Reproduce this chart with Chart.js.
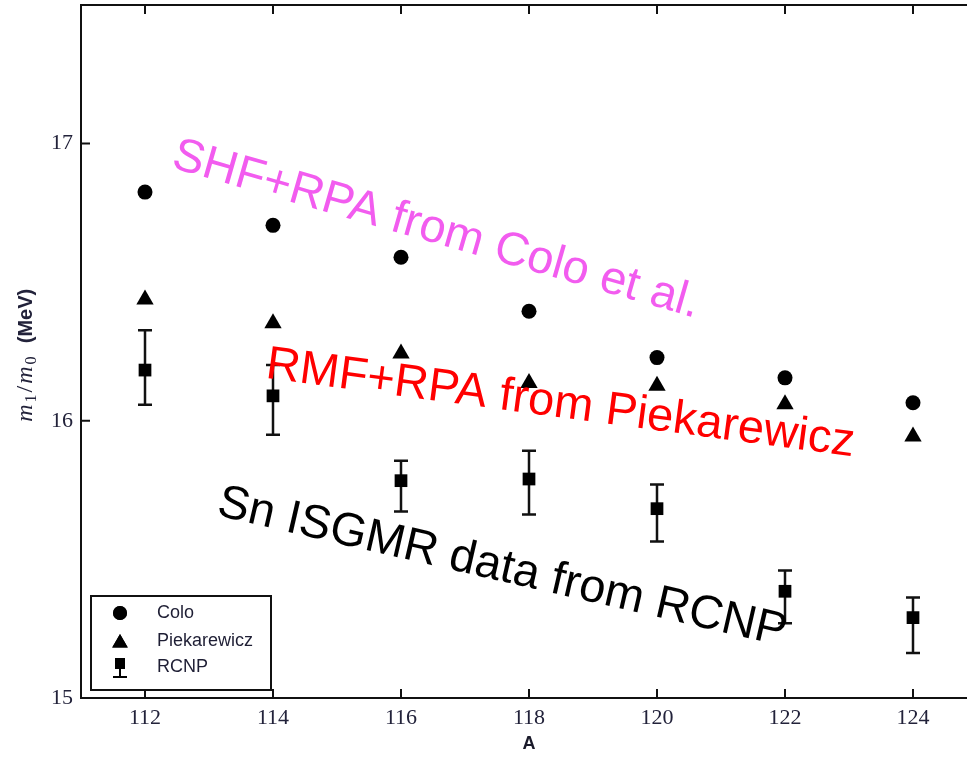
<!DOCTYPE html>
<html>
<head>
<meta charset="utf-8">
<script src="https://cdn.jsdelivr.net/npm/chart.js@4.4.0/dist/chart.umd.min.js"></script>
<style>
html, body { margin: 0; padding: 0; background: #fff; overflow: hidden; }
canvas { display: block; margin-top: -5px; }
</style>
</head>
<body>
<canvas id="isgmrChart" width="990" height="763"></canvas>
<script>
// Sn isotopes: m1/m0 centroid energies (MeV)
const massNumbers = [112, 114, 116, 118, 120, 122, 124];
const coloValues = [16.825, 16.705, 16.59, 16.395, 16.228, 16.155, 16.065];
const piekarewiczValues = [16.438, 16.352, 16.243, 16.136, 16.126, 16.06, 15.943];
const rcnpValues = [16.183, 16.09, 15.784, 15.79, 15.683, 15.385, 15.29];
const rcnpHigh = [16.327, 16.201, 15.856, 15.892, 15.77, 15.46, 15.363];
const rcnpLow = [16.058, 15.95, 15.673, 15.662, 15.565, 15.27, 15.162];

const xTicks = [112, 114, 116, 118, 120, 122, 124];
const yTicks = [15, 16, 17];

// rotated notes: text, colour, anchor (A, MeV) at baseline start, angle in degrees
const notes = [
    { text: 'SHF+RPA from Colo et al.', color: '#f25cef', x: 112.39, y: 16.915, angle: 16 },
    { text: 'RMF+RPA from Piekarewicz', color: '#ff0000', x: 113.87, y: 16.155, angle: 7.6 },
    { text: 'Sn ISGMR data from RCNP', color: '#000000', x: 113.1, y: 15.66, angle: 13 }
];

function points(values) {
    return values.map(function (v, i) { return { x: massNumbers[i], y: v }; });
}

var ctx = document.getElementById('isgmrChart');

var decorations = {
    id: 'decorations',
    beforeDatasetsDraw: function (chart) {
        var c = chart.ctx, sx = chart.scales.x, sy = chart.scales.y;
        c.save();
        c.strokeStyle = '#111';
        c.lineWidth = 2.5;
        for (var i = 0; i < massNumbers.length; i++) {
            var px = sx.getPixelForValue(massNumbers[i]);
            var top = sy.getPixelForValue(rcnpHigh[i]);
            var bot = sy.getPixelForValue(rcnpLow[i]);
            c.beginPath();
            c.moveTo(px, top); c.lineTo(px, bot);
            c.moveTo(px - 7, top); c.lineTo(px + 7, top);
            c.moveTo(px - 7, bot); c.lineTo(px + 7, bot);
            c.stroke();
        }
        c.restore();
    },
    afterDraw: function (chart) {
        var c = chart.ctx, a = chart.chartArea, sx = chart.scales.x, sy = chart.scales.y;
        c.save();

        // frame and inward ticks
        c.strokeStyle = '#111';
        c.lineWidth = 2;
        c.strokeRect(a.left, a.top, a.right - a.left, a.bottom - a.top);
        c.beginPath();
        xTicks.forEach(function (t) {
            var px = sx.getPixelForValue(t);
            c.moveTo(px, a.bottom); c.lineTo(px, a.bottom - 9);
            c.moveTo(px, a.top); c.lineTo(px, a.top + 9);
        });
        yTicks.forEach(function (t) {
            var py = sy.getPixelForValue(t);
            c.moveTo(a.left, py); c.lineTo(a.left + 9, py);
            c.moveTo(a.right, py); c.lineTo(a.right - 9, py);
        });
        c.stroke();

        // y axis title  m1/m0 (MeV)
        var runs = [
            { t: 'm', f: 'italic 24px "Liberation Serif"', dy: 0 },
            { t: '1', f: '16px "Liberation Serif"', dy: 4 },
            { t: '/', f: '24px "Liberation Serif"', dy: 0 },
            { t: 'm', f: 'italic 24px "Liberation Serif"', dy: 0 },
            { t: '0', f: '16px "Liberation Serif"', dy: 4 },
            { t: '  (MeV)', f: 'bold 20px "Liberation Sans"', dy: 0 }
        ];
        var total = 0;
        runs.forEach(function (r) { c.font = r.f; r.w = c.measureText(r.t).width + 2; total += r.w; });
        c.translate(32, sy.getPixelForValue(16.24));
        c.rotate(-Math.PI / 2);
        c.fillStyle = '#22223a';
        c.textBaseline = 'alphabetic';
        var pos = -total / 2;
        runs.forEach(function (r) {
            c.font = r.f;
            c.fillText(r.t, pos, r.dy);
            pos += r.w;
        });
        c.setTransform(1, 0, 0, 1, 0, 0);

        // legend box
        var bx = a.left + 10, by = a.bottom - 102, bw = 180, bh = 94;
        c.fillStyle = '#fff';
        c.fillRect(bx, by, bw, bh);
        c.lineWidth = 2;
        c.strokeStyle = '#111';
        c.strokeRect(bx, by, bw, bh);
        var rows = [by + 17, by + 45, by + 71];
        var mx = bx + 29;
        chart.data.datasets.forEach(function (ds, i) {
            c.fillStyle = '#000';
            c.strokeStyle = '#000';
            if (ds.label === 'RCNP') {
                c.lineWidth = 2;
                c.fillRect(mx - 5, rows[i] - 9, 10, 11);
                c.beginPath();
                c.moveTo(mx, rows[i] + 2); c.lineTo(mx, rows[i] + 10);
                c.moveTo(mx - 7, rows[i] + 10); c.lineTo(mx + 7, rows[i] + 10);
                c.stroke();
            } else {
                Chart.helpers.drawPoint(c, {
                    pointStyle: ds.pointStyle,
                    radius: ds.label === 'Colo' ? 7 : 9,
                    borderWidth: 0,
                    rotation: 0
                }, mx, rows[i] + (ds.pointStyle === 'triangle' ? 2 : 0));
                c.fill();
            }
            c.fillStyle = '#1e1e34';
            c.font = '18px "Liberation Sans"';
            c.textBaseline = 'middle';
            c.textAlign = 'left';
            c.fillText(ds.label, bx + 66, rows[i]);
        });

        // rotated notes
        c.font = '47px "Liberation Sans"';
        c.textBaseline = 'alphabetic';
        notes.forEach(function (n) {
            c.save();
            c.translate(sx.getPixelForValue(n.x), sy.getPixelForValue(n.y));
            c.rotate(n.angle * Math.PI / 180);
            c.fillStyle = n.color;
            c.fillText(n.text, 0, 0);
            c.restore();
        });

        c.restore();
    }
};

var isgmrChart = new Chart(ctx, {
    type: 'scatter',
    data: {
        datasets: [{
            label: 'Colo',
            data: points(coloValues),
            pointStyle: 'circle',
            pointRadius: 7.5,
            pointBorderWidth: 0,
            backgroundColor: '#000',
            borderColor: '#000'
        }, {
            label: 'Piekarewicz',
            data: points(piekarewiczValues),
            pointStyle: 'triangle',
            pointRadius: 10,
            pointBorderWidth: 0,
            backgroundColor: '#000',
            borderColor: '#000'
        }, {
            label: 'RCNP',
            data: points(rcnpValues),
            pointStyle: 'rect',
            pointRadius: 9,
            pointBorderWidth: 0,
            backgroundColor: '#000',
            borderColor: '#000'
        }]
    },
    options: {
        responsive: false,
        animation: false,
        events: [],
        layout: { padding: { top: 0, right: 13, left: 0, bottom: 0 } },
        plugins: {
            legend: { display: false },
            tooltip: { enabled: false }
        },
        scales: {
            x: {
                type: 'linear',
                min: 111,
                max: 125,
                afterBuildTicks: function (s) { s.ticks = xTicks.map(function (v) { return { value: v }; }); },
                afterFit: function (s) { s.height = 60; s.paddingLeft = 0; s.paddingRight = 0; },
                grid: { display: false, drawTicks: false },
                border: { display: false },
                ticks: {
                    padding: 7,
                    color: '#22223a',
                    font: { family: '"Liberation Serif"', size: 22 },
                    maxRotation: 0
                },
                title: {
                    display: true,
                    text: 'A',
                    color: '#1a1a2a',
                    font: { family: '"Liberation Sans"', size: 18, weight: 'bold' },
                    padding: { top: 0, bottom: 3 }
                }
            },
            y: {
                min: 15,
                max: 17.5,
                afterBuildTicks: function (s) { s.ticks = yTicks.map(function (v) { return { value: v }; }); },
                afterFit: function (s) { s.width = 81; s.paddingTop = 0; s.paddingBottom = 0; },
                grid: { display: false, drawTicks: false },
                border: { display: false },
                ticks: {
                    padding: 8,
                    color: '#22223a',
                    font: { family: '"Liberation Serif"', size: 22 }
                }
            }
        }
    },
    plugins: [decorations]
});
</script>
</body>
</html>
